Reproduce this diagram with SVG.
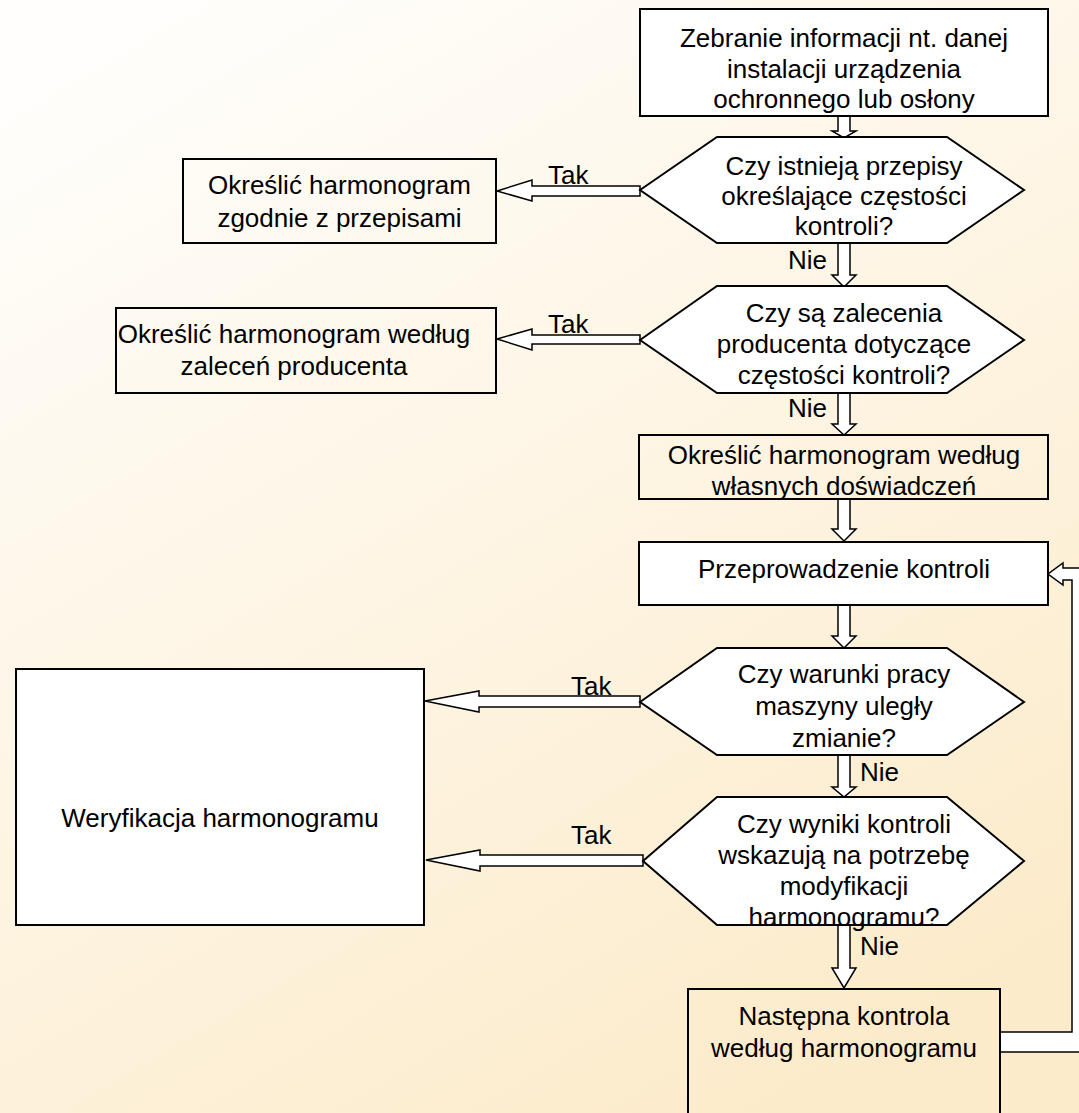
<svg xmlns="http://www.w3.org/2000/svg" width="1079" height="1113" viewBox="0 0 1079 1113">
<defs>
<linearGradient id="bg" gradientUnits="userSpaceOnUse" x1="150" y1="0" x2="800" y2="1113">
<stop offset="0" stop-color="#fffefc"/>
<stop offset="1" stop-color="#fcebca"/>
</linearGradient>
<style>
.n{stroke:#000;stroke-width:2;fill:#fff}
.o{stroke:#000;stroke-width:2;fill:none}
.a{stroke:#000;stroke-width:1.5;fill:#fff;stroke-linejoin:miter}
text{font-family:"Liberation Sans",Arial,sans-serif;font-size:26px;fill:#000}
.c{text-anchor:middle}
</style>
</defs>
<rect x="0" y="0" width="1079" height="1113" fill="url(#bg)"/>

<g id="connectors">
<polygon class="a" points="838,116 850,116 850,131 856,131 844,138 832,131 838,131"/>
<polygon class="a" points="838,243 850,243 850,275 856,275 844,287 832,275 838,275"/>
<polygon class="a" points="838,393 850,393 850,424 856,424 844,435 832,424 838,424"/>
<polygon class="a" points="838,499 850,499 850,529 856,529 844,541 832,529 838,529"/>
<polygon class="a" points="838,605 850,605 850,636 856,636 844,648 832,636 838,636"/>
<polygon class="a" points="838,755 850,755 850,787 856,787 844,797 832,787 838,787"/>
<polygon class="a" points="838,925 850,925 850,968 856,968 844,988 832,968 838,968"/>
<polygon class="a" points="640,186 532,186 532,180 497,191 532,201 532,196 640,196"/>
<polygon class="a" points="640,335 532,335 532,329 497,339 532,350 532,344 640,344"/>
<polygon class="a" points="640,696 479,696 479,691 425,701 479,712 479,707 640,707"/>
<polygon class="a" points="643,855 480,855 480,850 426,860 480,871 480,866 643,866"/>
<polygon class="a" points="1000,1032 1072,1032 1072,580 1063,580 1063,585 1048,574 1063,563 1063,568 1090,568 1090,1052 1000,1052"/>
<text x="548" y="184">Tak</text>
<text x="548" y="333">Tak</text>
<text x="571" y="695">Tak</text>
<text x="571" y="844">Tak</text>
<text x="788" y="269">Nie</text>
<text x="788" y="417">Nie</text>
<text x="860" y="781">Nie</text>
<text x="860" y="955">Nie</text>
</g>

<g id="n1">
<rect class="n" x="640" y="9" width="408" height="107"/>
<text class="c" x="844" y="47">Zebranie informacji nt. danej</text>
<text class="c" x="844" y="78">instalacji urządzenia</text>
<text class="c" x="844" y="108">ochronnego lub osłony</text>
</g>

<g id="d1">
<polygon class="n" points="640,190 717,137 947,137 1024,190 947,243 717,243"/>
<text class="c" x="844" y="175">Czy istnieją przepisy</text>
<text class="c" x="844" y="205">określające częstości</text>
<text class="c" x="844" y="235">kontroli?</text>
</g>

<g id="n2">
<rect class="o" x="183" y="159" width="313" height="84"/>
<text class="c" x="339.5" y="194">Określić harmonogram</text>
<text class="c" x="339.5" y="227">zgodnie z przepisami</text>
</g>

<g id="d2">
<polygon class="n" points="640,340 717,286 947,286 1024,340 947,393 717,393"/>
<text class="c" x="844" y="322">Czy są zalecenia</text>
<text class="c" x="844" y="353">producenta dotyczące</text>
<text class="c" x="844" y="384">częstości kontroli?</text>
</g>

<g id="n3">
<rect class="o" x="116" y="308" width="380" height="85"/>
<text class="c" x="294" y="343">Określić harmonogram według</text>
<text class="c" x="294" y="375">zaleceń producenta</text>
</g>

<g id="n4">
<rect class="o" x="639" y="435" width="409" height="64"/>
<text class="c" x="844" y="464">Określić harmonogram według</text>
<text class="c" x="844" y="495">własnych doświadczeń</text>
</g>

<g id="n5">
<rect class="n" x="639" y="542" width="409" height="63"/>
<text class="c" x="844" y="578">Przeprowadzenie kontroli</text>
</g>

<g id="d3">
<polygon class="n" points="640,702 717,648 947,648 1024,702 947,755 717,755"/>
<text class="c" x="844" y="683">Czy warunki pracy</text>
<text class="c" x="844" y="715">maszyny uległy</text>
<text class="c" x="844" y="747">zmianie?</text>
</g>

<g id="d4">
<polygon class="n" points="643,861 717,797 947,797 1024,861 947,925 717,925"/>
<text class="c" x="844" y="833">Czy wyniki kontroli</text>
<text class="c" x="844" y="864">wskazują na potrzebę</text>
<text class="c" x="844" y="895">modyfikacji</text>
<text class="c" x="844" y="926">harmonogramu?</text>
</g>

<g id="n6">
<rect class="n" x="16" y="669" width="408" height="256"/>
<text class="c" x="220" y="827">Weryfikacja harmonogramu</text>
</g>

<g id="n7">
<rect class="o" x="688" y="989" width="312" height="150"/>
<text class="c" x="844" y="1025">Następna kontrola</text>
<text class="c" x="844" y="1057">według harmonogramu</text>
</g>
</svg>
